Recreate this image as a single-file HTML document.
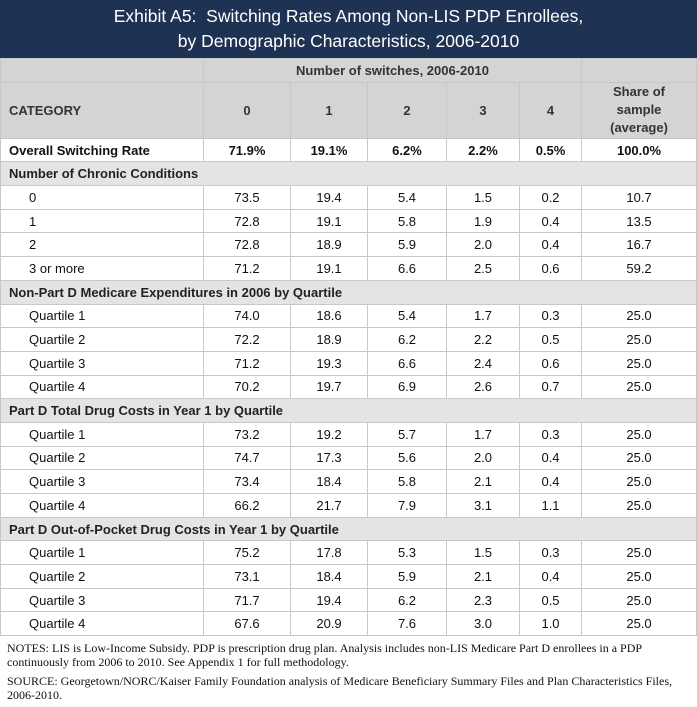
<!DOCTYPE html>
<html><head><meta charset="utf-8"><style>
body{margin:0;width:697px;height:707px;background:#fff;font-family:"Liberation Sans",sans-serif;overflow:hidden}
#title{position:absolute;left:0;top:0;width:697px;height:58px;background:#1e3253;color:#fff;text-align:center;font-size:17.5px;line-height:25px;padding-top:4px;box-sizing:border-box}
table{position:absolute;left:0;top:58px;width:696px;border-collapse:collapse;table-layout:fixed;font-size:13px;color:#111}
td{border:1px solid #c8c8c8;padding:0;text-align:center;height:22.7px;white-space:nowrap}
td:first-child{text-align:left;padding-left:8px}
tr.hd td{background:#d4d4d4;font-weight:bold;color:#333}
tr.sec td{background:#e4e4e4;font-weight:bold;color:#222}
tr.ov td{font-weight:bold}
td.in{padding-left:28px !important}
#notes{position:absolute;left:7px;top:641px;width:680px;font-family:"Liberation Serif",serif;font-size:12px;line-height:14px;color:#111}
#notes p{margin:0 0 5px 0}
</style></head><body>
<div id="title">Exhibit A5:&nbsp; Switching Rates Among Non-LIS PDP Enrollees,<br>by Demographic Characteristics, 2006-2010</div>
<table>
<colgroup><col style="width:203px"><col style="width:87px"><col style="width:77px"><col style="width:79px"><col style="width:73px"><col style="width:62px"><col style="width:115px"></colgroup>
<tr class="hd"><td style="height:19px"></td><td colspan="5">Number of switches, 2006-2010</td><td></td></tr>
<tr class="hd"><td style="height:55px">CATEGORY</td><td>0</td><td>1</td><td>2</td><td>3</td><td>4</td><td style="line-height:18px">Share of<br>sample<br>(average)</td></tr>
<tbody id="body"></tbody>
</table>
<div id="notes">
<p>NOTES: LIS is Low-Income Subsidy. PDP is prescription drug plan. Analysis includes non-LIS Medicare Part D enrollees in a PDP continuously from 2006 to 2010. See Appendix 1 for full methodology.</p>
<p>SOURCE: Georgetown/NORC/Kaiser Family Foundation analysis of Medicare Beneficiary Summary Files and Plan Characteristics Files, 2006-2010.</p>
</div>
<script>
const overall = ["71.9%","19.1%","6.2%","2.2%","0.5%","100.0%"];
const sections = ["Number of Chronic Conditions","Non-Part D Medicare Expenditures in 2006 by Quartile","Part D Total Drug Costs in Year 1 by Quartile","Part D Out-of-Pocket Drug Costs in Year 1 by Quartile"];
const labels1 = ["0","1","2","3 or more"];
const labelsQ = ["Quartile 1","Quartile 2","Quartile 3","Quartile 4"];
const chronicVals = [[73.5,19.4,5.4,1.5,0.2,10.7],[72.8,19.1,5.8,1.9,0.4,13.5],[72.8,18.9,5.9,2.0,0.4,16.7],[71.2,19.1,6.6,2.5,0.6,59.2]];
const expendVals = [[74.0,18.6,5.4,1.7,0.3,25.0],[72.2,18.9,6.2,2.2,0.5,25.0],[71.2,19.3,6.6,2.4,0.6,25.0],[70.2,19.7,6.9,2.6,0.7,25.0]];
const totalVals = [[73.2,19.2,5.7,1.7,0.3,25.0],[74.7,17.3,5.6,2.0,0.4,25.0],[73.4,18.4,5.8,2.1,0.4,25.0],[66.2,21.7,7.9,3.1,1.1,25.0]];
const oopVals = [[75.2,17.8,5.3,1.5,0.3,25.0],[73.1,18.4,5.9,2.1,0.4,25.0],[71.7,19.4,6.2,2.3,0.5,25.0],[67.6,20.9,7.6,3.0,1.0,25.0]];
const groups=[[labels1,chronicVals],[labelsQ,expendVals],[labelsQ,totalVals],[labelsQ,oopVals]];
const tb=document.getElementById('body');
let tr=document.createElement('tr');tr.className='ov';


tr.innerHTML='<td>Overall Switching Rate</td>'+overall.map(v=>'<td>'+v+'</td>').join('');
tb.appendChild(tr);
sections.forEach((s,i)=>{
 let r=document.createElement('tr');r.className='sec';
 
 
 r.innerHTML='<td colspan="7">'+s+'</td>';tb.appendChild(r);
 const [lab,vals]=groups[i];
 vals.forEach((row,j)=>{
  let d=document.createElement('tr');
  
  
  d.innerHTML='<td class="in">'+lab[j]+'</td>'+row.map(v=>'<td>'+v.toFixed(1)+'</td>').join('');
  tb.appendChild(d);
 });
});
</script>
</body></html>
